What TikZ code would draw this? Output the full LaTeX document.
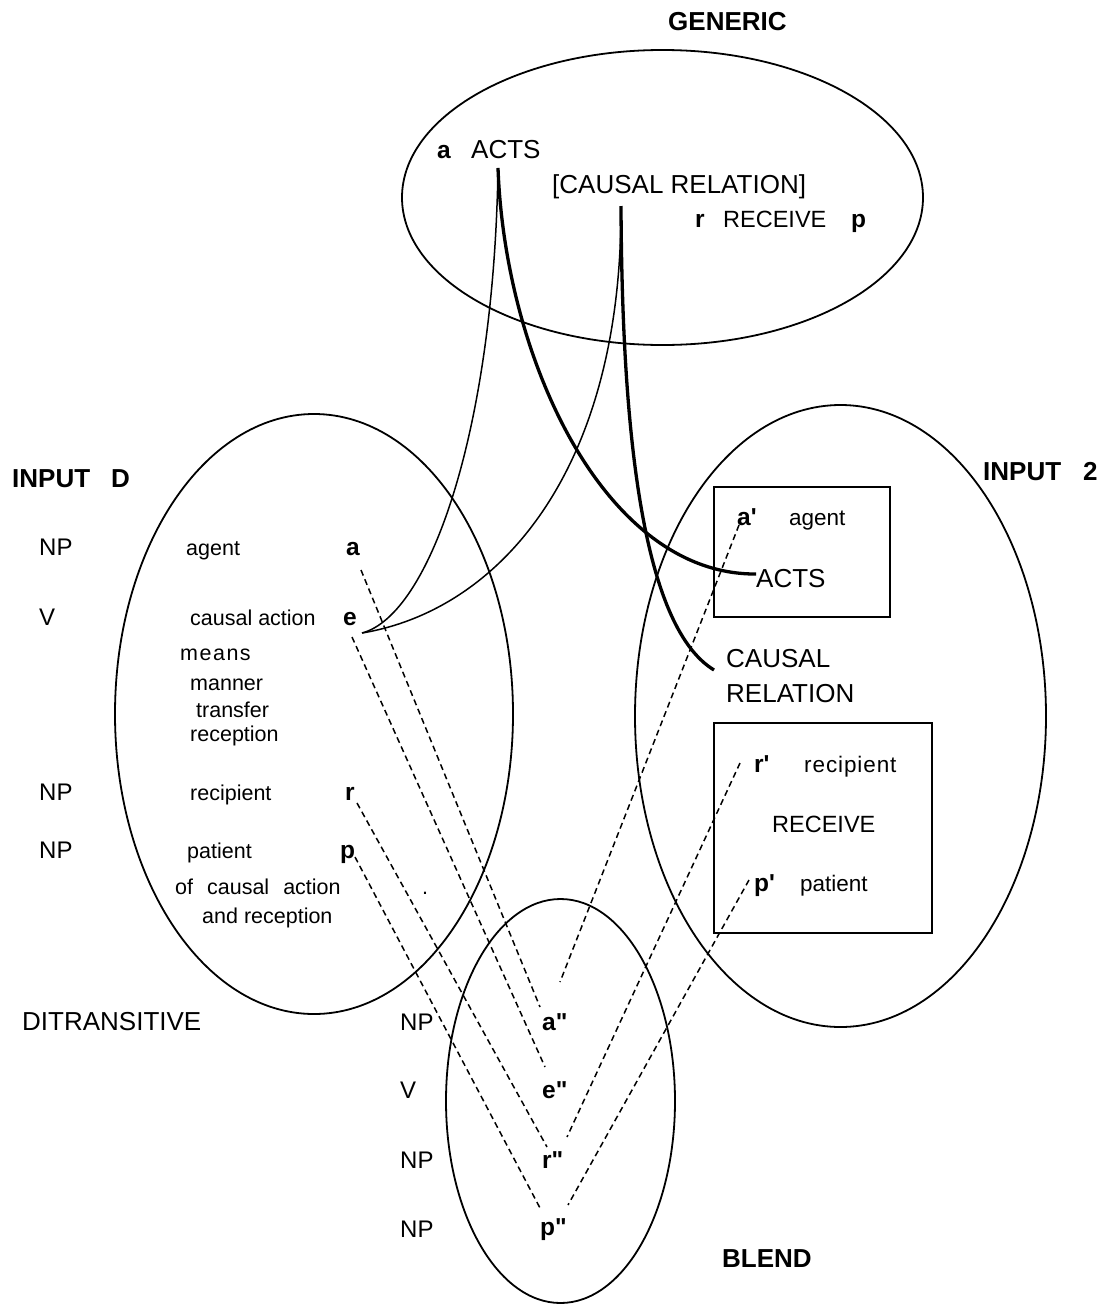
\documentclass[tikz,border=0pt]{standalone}
\usepackage{fontspec}
\setmainfont{Liberation Sans}
\usetikzlibrary{shapes.geometric}
\begin{document}
\begin{tikzpicture}[x=1pt,y=-1pt,
  txt/.style={inner sep=0pt, anchor=base west},
  tbig/.style={txt, font=\fontsize{26}{30}\selectfont},
  tmid/.style={txt, font=\fontsize{24}{30}\selectfont},
  thead/.style={txt, font=\bfseries\fontsize{26}{30}\selectfont},
  tlet/.style={txt, font=\bfseries\fontsize{24.5}{30}\selectfont},
  tsmall/.style={txt, font=\fontsize{21.5}{26}\selectfont},
  tsmallb/.style={txt, font=\fontsize{22.5}{26}\selectfont},
  mental/.style={draw, ellipse, line width=1.8pt, inner sep=0pt},
  roombox/.style={draw, rectangle, line width=2.2pt, inner sep=0pt},
  heavy/.style={line width=3.3pt},
  light/.style={line width=1.5pt},
  link/.style={line width=1.5pt, dash pattern=on 6pt off 4pt},
]
\useasboundingbox[fill=white] (0,0) rectangle (1104,1304);

% mental spaces
\node[mental, minimum width=521pt, minimum height=295pt] (gen) at (662.5,197.5) {};
\node[mental, minimum width=398pt, minimum height=600pt] (inD) at (314,714) {};
\node[mental, minimum width=411pt, minimum height=622pt] (in2) at (840.5,716) {};
\node[mental, minimum width=229pt, minimum height=404pt] (bl) at (560.5,1101) {};
\node[roombox, minimum width=176pt, minimum height=130pt] (boxA) at (802,552) {};
\node[roombox, minimum width=218pt, minimum height=210pt] (boxR) at (823,828) {};

% generic space
\node[thead] (tgen) at (668,30) {GENERIC};
\node[tlet] (ga) at (437,158) {a};
\node[tbig] (gacts) at (471,158) {ACTS};
\node[tbig] (gcaus) at (552,193) {[CAUSAL RELATION]};
\node[tlet] (gr) at (695,227) {r};
\node[tmid] (grec) at (723,227) {\fontsize{23.5}{30}\selectfont RECEIVE};
\node[tlet] (gp) at (851,227) {p};

% input D
\node[thead] (tinD) at (12,487) {INPUT\hspace{21pt}D};
\node[tmid] (dnp1) at (39,555) {NP};
\node[tsmall] (dagent) at (186,555) {agent};
\node[tlet] (da) at (346,555) {a};
\node[tmid] (dv) at (39,625) {V};
\node[tsmall] (dcaus) at (190,625) {causal action};
\node[tlet] (de) at (343,625) {e};
\node[tsmall] (dmeans) at (180,660) {m\kern1.5pt e\kern1.5pt a\kern1.5pt n\kern1.5pt s};
\node[tsmall] (dmanner) at (190,690) {manner};
\node[tsmall] (dtransfer) at (196,717) {transfer};
\node[tsmall] (dreception) at (190,741) {reception};
\node[tmid] (dnp2) at (39,800) {NP};
\node[tsmall] (drecip) at (190,800) {recipient};
\node[tlet] (dr) at (345,800) {r};
\node[tmid] (dnp3) at (39,858) {NP};
\node[tsmall] (dpatient) at (187,858) {patient};
\node[tlet] (dp) at (340,858) {p};
\node[tsmall] (dof) at (175,894) {of\hspace{14pt}causal\hspace{14pt}action};
\node[tsmall] (dand) at (202,923) {and reception};
\node[tsmall] (ddot) at (422,894) {.};
\node[tbig] (dditr) at (22,1030) {DITRANSITIVE};

% input 2
\node[thead] (tin2) at (983,480) {INPUT\hspace{22pt}2};
\node[tlet] (ia) at (737,525) {a\textquotesingle};
\node[tsmallb] (iagent) at (789,525) {agent};
\node[tbig] (iacts) at (756,587) {ACTS};
\node[tbig] (icaus) at (726,667) {CAUSAL};
\node[tbig] (irel) at (726,702) {RELATION};
\node[tlet] (ir) at (754,772) {r\textquotesingle};
\node[tsmallb] (irecip) at (804,772) {\addfontfeature{LetterSpace=4}recipient};
\node[tmid] (irec) at (772,832) {\fontsize{23.5}{30}\selectfont RECEIVE};
\node[tlet] (ip) at (754,891) {p\textquotesingle};
\node[tsmallb] (ipatient) at (800,891) {patient};

% blend
\node[tmid] (bnp1) at (400,1030) {NP};
\node[tmid] (bv) at (400,1098) {V};
\node[tmid] (bnp2) at (400,1168) {NP};
\node[tmid] (bnp3) at (400,1237) {NP};
\node[tlet] (ba) at (542,1030) {a\textquotedbl};
\node[tlet] (be) at (542,1098) {e\textquotedbl};
\node[tlet] (br) at (542,1168) {r\textquotedbl};
\node[tlet] (bp) at (540,1235) {p\textquotedbl};
\node[thead] (tbl) at (722,1267) {BLEND};

% connector end points
\coordinate (gActs) at (498,168);
\coordinate (gCaus) at (621,206);
\coordinate (eEnd) at (362,633);
\coordinate (actsEnd) at (756,574);
\coordinate (causEnd) at (714,670);

% generic -> inputs
\draw[heavy] (gActs) .. controls (505,360) and (605,575) .. (actsEnd);
\draw[heavy] (gCaus) .. controls (622,420) and (640,625) .. (causEnd);
\draw[light] (gActs) .. controls (494,430) and (430,615) .. (eEnd);
\draw[light] (gCaus) .. controls (622,470) and (500,610) .. (eEnd);

% cross-space mappings
\coordinate (la) at (361,570);  \coordinate (ba2) at (540,1007);
\coordinate (le) at (352,637);  \coordinate (be2) at (545,1067);
\coordinate (lr) at (357,803);  \coordinate (br2) at (547,1147);
\coordinate (lp) at (355,857);  \coordinate (bp2) at (540,1208);
\coordinate (ra) at (739,525);  \coordinate (ba3) at (560,982);
\coordinate (rr) at (740,763);  \coordinate (br3) at (567,1137);
\coordinate (rp) at (749,880);  \coordinate (bp3) at (568,1205);
\draw[link] (la) -- (ba2);
\draw[link] (le) -- (be2);
\draw[link] (lr) -- (br2);
\draw[link] (lp) -- (bp2);
\draw[link] (ra) -- (ba3);
\draw[link] (rr) -- (br3);
\draw[link] (rp) -- (bp3);
\end{tikzpicture}
\end{document}
